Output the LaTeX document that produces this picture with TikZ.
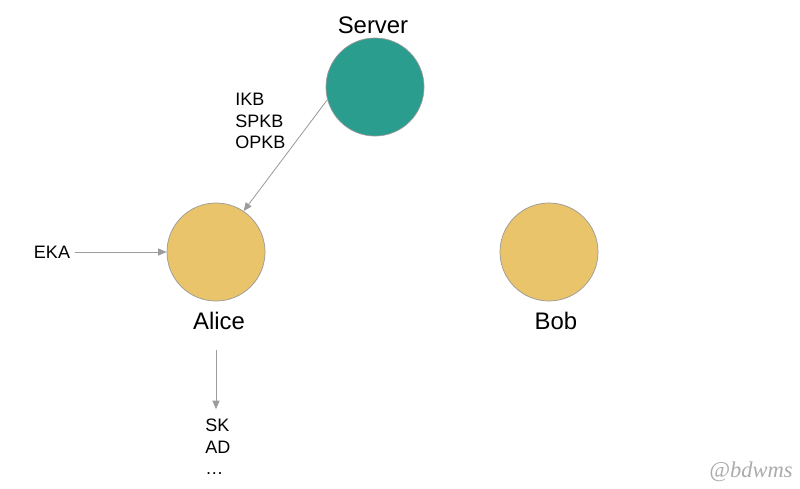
\documentclass[tikz,border=0pt]{standalone}
\usepackage{fontspec}
\setmainfont{Liberation Sans}
\newfontfamily\signfont{Liberation Serif}
\usetikzlibrary{arrows.meta, positioning}
\definecolor{servergreen}{HTML}{2A9D8F}
\definecolor{partygold}{HTML}{E9C46A}
\definecolor{rimgray}{HTML}{9A9A9A}
\definecolor{wiregray}{HTML}{9C9C9C}
\definecolor{signgray}{HTML}{ABABAB}

\begin{document}
\begin{tikzpicture}[
  x=0.025cm, y=-0.025cm,
  party/.style={circle, minimum size=2.45cm, inner sep=0pt, draw=rimgray, line width=0.5pt},
  who/.style={font=\fontsize{17}{20}\selectfont, anchor=base},
  keys/.style={font=\fontsize{12.8}{15.3}\selectfont, align=left, inner sep=0pt},
  wire/.style={draw=wiregray, line width=0.6pt, -{Triangle[length=6pt, width=5pt]}}
]

% --- Canvas (pixel grid of the reference) ---
\useasboundingbox (0,0) rectangle (800,488);

% --- Parties ---
\node[party, fill=servergreen] (server) at (375,87)  {};
\node[party, fill=partygold]   (alice)  at (216,252) {};
\node[party, fill=partygold]   (bob)    at (549,252) {};

\node[who] (serverlbl) at (373,33)  {Server};
\node[who] (alicelbl)  at (219,329) {Alice};
\node[who] (boblbl)    at (556,329) {Bob};

% --- Key material ---
\node[keys, anchor=north west] (bundle)  at (235,93)  {IKB\\SPKB\\OPKB};
\node[keys, inner xsep=3.5pt]  (eka)     at (52,252)  {EKA};
\node[keys, anchor=north west] (outputs) at (205,419) {SK\\AD\\\dots};

\coordinate (aliceout) at (216,350);

% --- Flows ---
\draw[wire] (server.195) -- (alice.56);
\draw[wire] (eka) -- (alice);
\draw[wire, shorten >=7pt] (aliceout) -- (aliceout |- outputs.north);

% --- Signature ---
\node[font=\signfont\itshape\fontsize{16}{18}\selectfont, text=signgray] (sign) at (751,472) {@bdwms};

\end{tikzpicture}
\end{document}
